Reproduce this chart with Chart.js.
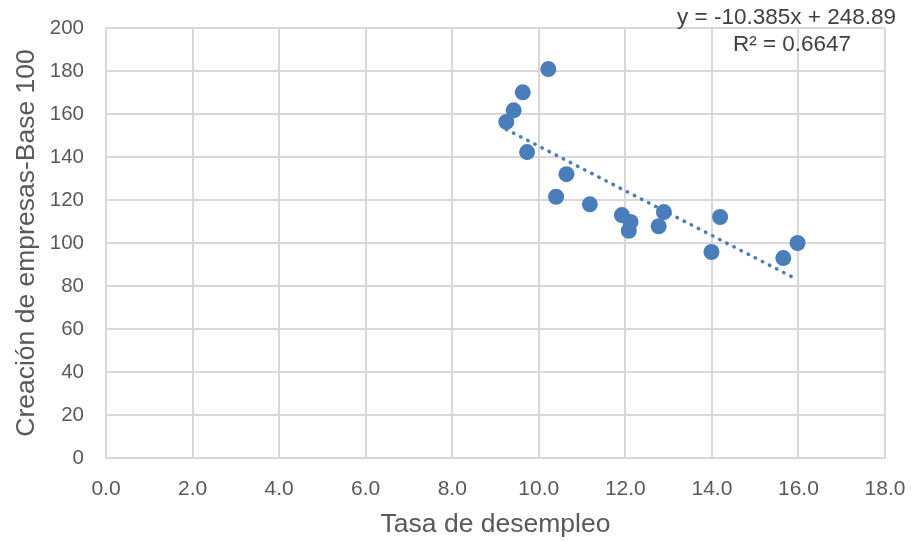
<!DOCTYPE html>
<html>
<head>
<meta charset="utf-8">
<script src="https://cdn.jsdelivr.net/npm/chart.js@4/dist/chart.umd.min.js"></script>
<style>
  html, body { margin: 0; padding: 0; background: #ffffff; }
  #wrap { width: 912px; height: 542px; position: relative; }
</style>
</head>
<body>
<div id="wrap"><canvas id="c" width="912" height="542"></canvas></div>
<script>
// Data
const desempleo = [9.25, 9.42, 9.63, 10.22, 9.73, 10.40, 10.64, 11.18, 11.92, 12.12, 12.08, 12.77, 12.89, 14.19, 13.99, 15.65, 15.98];
const creacion  = [156.3, 161.7, 170.1, 180.9, 142.3, 121.5, 132.0, 118.0, 113.0, 109.8, 105.7, 107.8, 114.4, 112.1, 95.8, 93.0, 100.0];
const trendSlope = -10.385;
const trendIntercept = 248.89;
const trendLabel = "y = -10.385x + 248.89";
const r2Label = "R² = 0.6647";
const xTitle = "Tasa de desempleo";
const yTitle = "Creación de empresas-Base 100";

const points = desempleo.map((x, i) => ({ x: x, y: creacion[i] }));
const xMin = Math.min(...desempleo), xMax = Math.max(...desempleo);
const trend = [
  { x: xMin, y: trendSlope * xMin + trendIntercept },
  { x: xMax, y: trendSlope * xMax + trendIntercept }
];

const FONT = "'Liberation Sans', Arial, sans-serif";
const BLUE = '#4a7ebb';
const TXT = '#595959';
const GRID = '#d9d9d9';

const annotationPlugin = {
  id: 'eqLabel',
  afterDraw(chart) {
    const ctx = chart.ctx;
    ctx.save();
    ctx.fillStyle = '#404040';
    ctx.font = '22.5px ' + FONT;
    ctx.textBaseline = 'middle';
    ctx.textAlign = 'right';
    ctx.fillText(trendLabel, 896, 18);
    ctx.textAlign = 'center';
    ctx.fillText(r2Label, 792, 45);
    ctx.restore();
  }
};

new Chart(document.getElementById('c'), {
  type: 'scatter',
  data: {
    datasets: [
      {
        label: 'Creación',
        data: points,
        backgroundColor: BLUE,
        borderColor: BLUE,
        pointRadius: 8,
        pointHoverRadius: 8,
        pointBorderWidth: 0,
        order: 1
      },
      {
        label: 'Tendencia',
        type: 'line',
        data: trend,
        borderColor: BLUE,
        borderWidth: 3.5,
        borderDash: [0.5, 7.5],
        borderCapStyle: 'round',
        pointRadius: 0,
        fill: false,
        order: 2
      }
    ]
  },
  options: {
    responsive: false,
    animation: false,
    devicePixelRatio: 1,
    layout: { padding: { top: 28, right: 27, left: 0, bottom: 0 } },
    plugins: {
      legend: { display: false },
      tooltip: { enabled: false }
    },
    scales: {
      x: {
        type: 'linear',
        min: 0, max: 18,
        ticks: {
          stepSize: 2,
          color: TXT,
          padding: 19,
          font: { family: FONT, size: 21 },
          callback: v => v.toFixed(1)
        },
        grid: { color: GRID, lineWidth: 2, drawTicks: false },
        border: { display: true, color: GRID, width: 2 },
        title: {
          display: true, text: xTitle, color: TXT,
          font: { family: FONT, size: 26.5 },
          padding: { top: 0, bottom: 1 }
        },
        afterFit(scale) {
          scale.height = 84;
          scale.paddingLeft = 0; scale.paddingRight = 0;
        }
      },
      y: {
        type: 'linear',
        min: 0, max: 200,
        ticks: {
          stepSize: 20,
          color: TXT,
          padding: 22,
          font: { family: FONT, size: 20.5 }
        },
        grid: { color: GRID, lineWidth: 2, drawTicks: false },
        border: { display: true, color: GRID, width: 2 },
        title: {
          display: true, text: yTitle, color: TXT,
          font: { family: FONT, size: 26.5 },
          padding: { top: 11, bottom: 0 }
        },
        afterFit(scale) {
          scale.width = 106;
          scale.paddingTop = 0; scale.paddingBottom = 0;
        }
      }
    }
  },
  plugins: [annotationPlugin]
});
</script>
</body>
</html>
